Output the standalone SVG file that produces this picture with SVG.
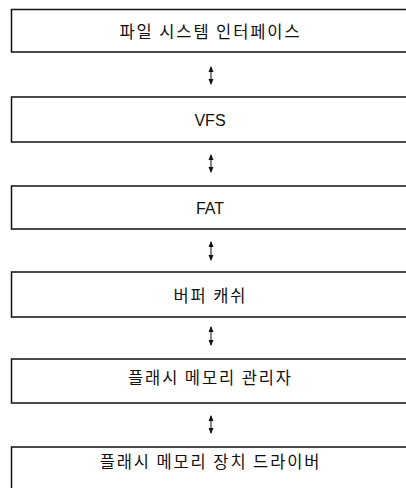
<svg xmlns="http://www.w3.org/2000/svg" width="406" height="488" viewBox="0 0 406 488">
<style>
.box{fill:#fff;stroke:#111;stroke-width:1.5}
.ko{font-family:"Noto Sans CJK KR","Noto Sans",sans-serif;font-size:16.5px;letter-spacing:1.9px;fill:#111;text-anchor:middle}
.en{font-family:"Liberation Sans",Arial,sans-serif;font-size:16px;fill:#111;text-anchor:middle}
.conn{stroke:#111;stroke-width:1;fill:none;marker-start:url(#ah);marker-end:url(#ah)}
</style>
<defs>
<marker id="ah" viewBox="0 0 6 6" refX="5" refY="3" markerWidth="6" markerHeight="6" markerUnits="userSpaceOnUse" orient="auto-start-reverse">
<path d="M0,0.5 L6,3 L0,5.5 Z" fill="#111"/>
</marker>
</defs>
<rect width="406" height="488" fill="#fff"/>
<g id="n1"><rect class="box" x="11.5" y="9.5" width="420" height="42.5"/><text class="ko" x="210.5" y="38">파일 시스템 인터페이스</text></g>
<g id="n2"><rect class="box" x="11.5" y="97" width="420" height="45"/><text class="en" x="210" y="126">VFS</text></g>
<g id="n3"><rect class="box" x="11.5" y="186" width="420" height="43"/><text class="en" x="210" y="214">FAT</text></g>
<g id="n4"><rect class="box" x="11.5" y="272" width="420" height="45"/><text class="ko" x="210.5" y="302">버퍼 캐쉬</text></g>
<g id="n5"><rect class="box" x="11.5" y="359" width="420" height="44"/><text class="ko" x="210.5" y="384">플래시 메모리 관리자</text></g>
<g id="n6"><rect class="box" x="11.5" y="447" width="420" height="60"/><text class="ko" x="210.5" y="468">플래시 메모리 장치 드라이버</text></g>
<g id="connectors">
<line class="conn" x1="211" y1="67" x2="211" y2="84"/>
<line class="conn" x1="211" y1="155" x2="211" y2="172"/>
<line class="conn" x1="211" y1="242" x2="211" y2="260"/>
<line class="conn" x1="211" y1="327" x2="211" y2="345"/>
<line class="conn" x1="211" y1="416" x2="211" y2="433"/>
</g>
</svg>
